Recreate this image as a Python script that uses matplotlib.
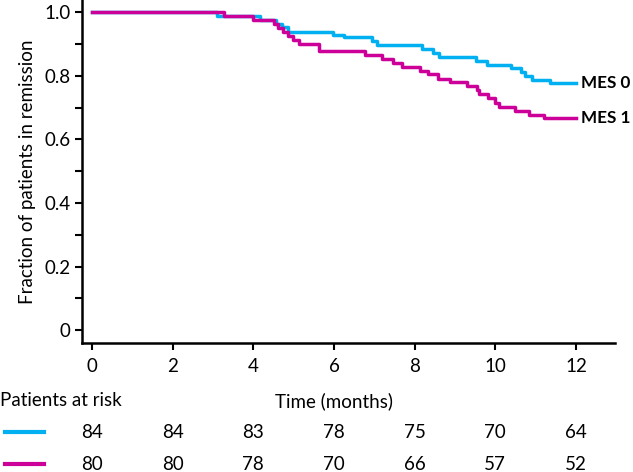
import matplotlib
matplotlib.use("Agg")
import matplotlib.pyplot as plt
import matplotlib.transforms as mtransforms
from matplotlib.ticker import MultipleLocator

plt.rcParams['font.family'] = ['Lato', 'DejaVu Sans']

# step curves (time in months, fraction in remission)
mes0_t = [0, 3.11, 4.17, 4.57, 4.72, 4.87, 5.98, 6.24, 6.94, 7.06, 8.18, 8.46,
          8.61, 9.51, 9.79, 10.38, 10.63, 10.73, 10.91, 11.37]
mes0_s = [1.0, 0.988, 0.976, 0.964, 0.952, 0.938, 0.929, 0.921, 0.91, 0.898,
          0.884, 0.872, 0.859, 0.847, 0.835, 0.824, 0.812, 0.800, 0.786, 0.776]
mes1_t = [0, 3.26, 3.99, 4.50, 4.62, 4.74, 4.87, 4.99, 5.13, 5.63, 6.77, 7.19,
          7.47, 7.68, 8.14, 8.34, 8.59, 8.88, 9.30, 9.54, 9.59, 9.82, 9.99, 10.10,
          10.50, 10.83, 11.20]
mes1_s = [1.0, 0.988, 0.976, 0.963, 0.950, 0.938, 0.925, 0.913, 0.900, 0.878,
          0.865, 0.852, 0.841, 0.828, 0.816, 0.804, 0.791, 0.779, 0.767, 0.755,
          0.741, 0.729, 0.713, 0.701, 0.690, 0.677, 0.666]
t_end = 12.0

risk_times = [0, 2, 4, 6, 8, 10, 12]
risk_mes0 = [84, 84, 83, 78, 75, 70, 64]
risk_mes1 = [80, 80, 78, 70, 66, 57, 52]

blue = '#00B0F0'
magenta = '#CC0099'

fig = plt.figure(figsize=(6.33, 4.72), dpi=100)
ax = fig.add_axes([82 / 633, 1 - 343 / 472, 533 / 633, 343 / 472])

ax.step(mes0_t + [t_end], mes0_s + [mes0_s[-1]], where='post', color=blue, lw=2.5)
ax.step(mes1_t + [t_end], mes1_s + [mes1_s[-1]], where='post', color=magenta, lw=2.5)

ax.text(12.12, mes0_s[-1], 'MES 0', fontsize=12.3, fontweight='bold', va='center', ha='left')
ax.text(12.12, mes1_s[-1], 'MES 1', fontsize=12.3, fontweight='bold', va='center', ha='left')

ax.set_xlim(-0.25, 12.97)
ax.set_ylim(-0.04, 1.038)
ax.set_xticks(risk_times)
ax.set_yticks([0, 0.2, 0.4, 0.6, 0.8, 1.0])
ax.set_yticklabels(['0', '0.2', '0.4', '0.6', '0.8', '1.0'])
ax.yaxis.set_minor_locator(MultipleLocator(0.1))
ax.tick_params(axis='both', labelsize=13.5, width=1.5, length=5, color='black')
ax.tick_params(axis='y', which='minor', width=1.5, length=5)
ax.tick_params(axis='x', pad=6)
for s in ['top', 'right']:
    ax.spines[s].set_visible(False)
for s in ['left', 'bottom']:
    ax.spines[s].set_linewidth(1.8)
ax.set_ylabel('Fraction of patients in remission', fontsize=13.5, labelpad=6)

# risk table below the axes
tr = mtransforms.blended_transform_factory(ax.transData, fig.transFigure)
fig.text(0.0, 1 - 401 / 472, 'Patients at risk', fontsize=13.5, va='center', ha='left')
ax.text(6, 1 - 401 / 472, 'Time (months)', fontsize=13.5, va='center', ha='center', transform=tr)
for row, (vals, col) in enumerate([(risk_mes0, blue), (risk_mes1, magenta)]):
    yy = 1 - (432 + 32 * row) / 472
    fig.add_artist(plt.Line2D([5 / 633, 44 / 633], [yy, yy], color=col, lw=3))
    for t, v in zip(risk_times, vals):
        ax.text(t, yy, str(v), fontsize=13.5, va='center', ha='center', transform=tr)

fig.savefig('out.png', dpi=100)
